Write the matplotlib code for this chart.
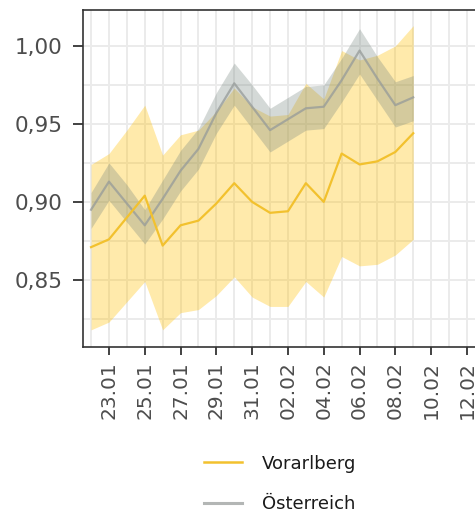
import matplotlib
matplotlib.use("Agg")
import matplotlib.pyplot as plt
import matplotlib.dates as mdates
from matplotlib.ticker import FixedLocator, FuncFormatter, MultipleLocator
from matplotlib.lines import Line2D
import numpy as np
import pandas as pd

plt.rcParams['font.family'] = ['DejaVu Sans']

dates = pd.date_range("2021-01-22", "2021-02-09", freq="D")

vbg_mean = [0.871, 0.876, 0.890, 0.904, 0.872, 0.885, 0.888, 0.899, 0.912, 0.900,
            0.893, 0.894, 0.912, 0.900, 0.931, 0.924, 0.926, 0.932, 0.944]
vbg_upper = [0.924, 0.931, 0.946, 0.962, 0.930, 0.943, 0.946, 0.958, 0.973, 0.961,
             0.955, 0.956, 0.976, 0.966, 0.997, 0.991, 0.994, 1.000, 1.013]
vbg_lower = [0.818, 0.823, 0.836, 0.849, 0.818, 0.829, 0.831, 0.840, 0.852, 0.839,
             0.833, 0.833, 0.849, 0.839, 0.865, 0.859, 0.860, 0.866, 0.876]

aut_mean = [0.895, 0.913, 0.899, 0.885, 0.902, 0.920, 0.934, 0.957, 0.976, 0.961,
            0.946, 0.953, 0.960, 0.961, 0.978, 0.997, 0.979, 0.962, 0.967]
aut_upper = [0.906, 0.925, 0.911, 0.895, 0.914, 0.933, 0.947, 0.970, 0.989, 0.975,
             0.960, 0.967, 0.974, 0.975, 0.992, 1.011, 0.993, 0.977, 0.981]
aut_lower = [0.883, 0.901, 0.887, 0.873, 0.889, 0.907, 0.921, 0.944, 0.962, 0.947,
             0.932, 0.939, 0.946, 0.947, 0.964, 0.982, 0.965, 0.948, 0.952]

series_labels = ["Vorarlberg", "Österreich"]
yticks = [0.85, 0.90, 0.95, 1.00]

yellow = "#F2C12E"
yellow_fill = "#FFC000"
gray_line = "#969B99"
gray_fill = "#76857F"

fig = plt.figure(figsize=(4.75, 5.17), dpi=100)
ax = fig.add_axes([83/475, 1-347/517, 1-83/475, (347-10)/517])

x = mdates.date2num(dates)

ax.fill_between(x, vbg_lower, vbg_upper, color=yellow_fill, alpha=0.33, lw=0, zorder=2)
ax.fill_between(x, aut_lower, aut_upper, color=gray_fill, alpha=0.31, lw=0, zorder=3)
ax.plot(x, aut_mean, color=gray_line, lw=1.6, zorder=4, alpha=0.75)
ax.plot(x, vbg_mean, color=yellow, lw=1.6, zorder=5)

x0 = x[0]
ax.set_xlim(x0 - 0.45, x0 + 21.45)
ax.set_ylim(0.807, 1.023)

major_x = [x0 + d for d in range(1, 22, 2)]
minor_x = [x0 + d for d in range(0, 22, 2)]
ax.xaxis.set_major_locator(FixedLocator(major_x))
ax.xaxis.set_minor_locator(FixedLocator(minor_x))
ax.xaxis.set_major_formatter(mdates.DateFormatter("%d.%m"))
ax.yaxis.set_major_locator(FixedLocator(yticks))
ax.yaxis.set_minor_locator(MultipleLocator(0.025))
ax.yaxis.set_major_formatter(FuncFormatter(lambda v, p: f"{v:.2f}".replace(".", ",")))

ax.grid(which="major", color="#EBEBEB", lw=1.4, zorder=0)
ax.grid(which="minor", color="#EBEBEB", lw=1.4, zorder=0)
ax.set_axisbelow(True)

for lbl in ax.get_xticklabels():
    lbl.set_rotation(90)
ax.tick_params(axis="x", which="major", labelsize=14.5, length=6, width=1.3,
               color="#333333", labelcolor="#4D4D4D", pad=4, direction="out")
ax.tick_params(axis="y", which="major", labelsize=15.5, length=7, width=1.3,
               color="#333333", labelcolor="#4D4D4D", pad=8, direction="out")
ax.tick_params(which="minor", length=0)

for s in ["left", "bottom", "top"]:
    ax.spines[s].set_color("#333333")
    ax.spines[s].set_linewidth(1.2)
ax.spines["right"].set_visible(False)

handles = [Line2D([], [], color=yellow, lw=1.8),
           Line2D([], [], color="#B3B6B5", lw=2.2)]
fig.legend(handles, series_labels, loc="center left",
           bbox_to_anchor=(188/475, 1-484/517), frameon=False,
           fontsize=13, handlelength=2.1, handletextpad=1.1, labelspacing=1.25,
           labelcolor="#1A1A1A")

fig.savefig("out.png", dpi=100)
